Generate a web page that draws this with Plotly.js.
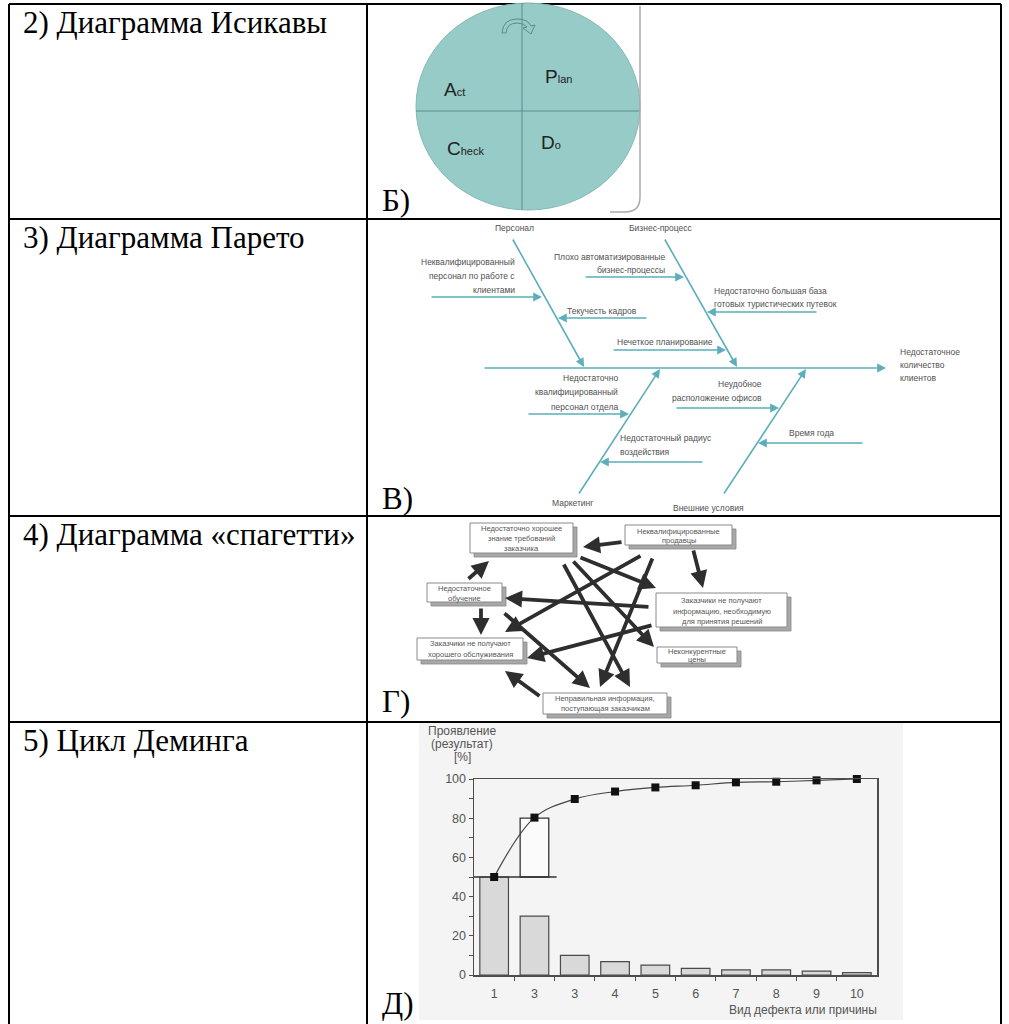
<!DOCTYPE html>
<html>
<head>
<meta charset="utf-8">
<script src="https://cdn.plot.ly/plotly-3.0.1.min.js"></script>
<style>html,body{margin:0;padding:0;background:#fff;}#chart{width:1009px;height:1024px;}</style>
</head>
<body>
<div id="chart"></div>
<script>
// ================= DATA =================
const rowTitles = ["2) Диаграмма Исикавы", "3) Диаграмма Парето", "4) Диаграмма «спагетти»", "5) Цикл Деминга"];
const rowLetters = ["Б)", "В)", "Г)", "Д)"];

// Pareto chart (panel Д)
const defectLabels = ["1", "3", "3", "4", "5", "6", "7", "8", "9", "10"];
const defectShare = [50, 30, 10, 6.8, 5, 3.4, 2.6, 2.6, 2, 1.2];
const cumulativeShare = [50, 80.3, 89.8, 93.6, 95.7, 96.8, 98.3, 98.6, 99.3, 100];
const yTitleLines = ["Проявление", "(результат)", "[%]"];
const xTitleText = "Вид дефекта или причины";

// PDCA circle (panel Б)
const pdcaBig = ["P", "D", "C", "A"];
const pdcaSmall = ["lan", "o", "heck", "ct"];

// Fishbone (panel В)
const fishTexts = ["Персонал", "Бизнес-процесс", "Маркетинг", "Внешние условия",
  "Неквалифицированный", "персонал по работе с", "клиентами",
  "Текучесть кадров",
  "Плохо автоматизированные", "бизнес-процессы",
  "Нечеткое планирование",
  "Недостаточно большая база", "готовых туристических путевок",
  "Недостаточно", "квалифицированный", "персонал отдела",
  "Недостаточный радиус", "воздействия",
  "Неудобное", "расположение офисов",
  "Время года",
  "Недостаточное", "количество", "клиентов"];

// Spaghetti (panel Г)
const spagTexts = [
  ["Недостаточно хорошее", "знание требований", "заказчика"],
  ["Неквалифицированные", "продавцы"],
  ["Недостаточное", "обучение"],
  ["Заказчики не получают", "информацию, необходимую", "для принятия решений"],
  ["Заказчики не получают", "хорошего обслуживания"],
  ["Неконкурентные", "цены"],
  ["Неправильная информация,", "поступающая заказчикам"]
];

// ================= LAYOUT GEOMETRY (page pixels) =================
const tableLeft = 9, tableRight = 1001, colSplit = 367;
const rowEdges = [4, 219, 516, 722];
const titleCenters = [22, 237, 534, 740];
const letterCenters = [200, 498, 701, 1003];

const pdcaPos = [[543, 76, 19], [539, 142, 19], [445, 148, 19], [442, 89, 19]];

// fishbone arrows: tail x, tail y, head x, head y
const fishArrows = [
  [483, 368, 886, 368],
  [512, 238, 584, 367], [664, 238, 737, 367],
  [578, 495, 660, 369], [723, 495, 806, 369],
  [430, 297, 542, 297], [648, 318, 558, 318], [584, 277, 684, 277],
  [612, 350, 726, 350], [818, 312, 707, 312], [527, 414, 629, 414],
  [704, 462, 600, 462], [675, 408, 779, 408], [864, 443, 758, 443]
];
// fishbone text positions: x, y, anchor
const fishTextPos = [
  [514, 228, 'center'], [661, 228, 'center'], [572, 503, 'center'], [708, 508, 'center'],
  [517, 262, 'right'], [517, 276, 'right'], [517, 290, 'right'],
  [565, 311, 'left'],
  [667, 257, 'right'], [667, 270, 'right'],
  [615, 342, 'left'],
  [712, 291, 'left'], [712, 304, 'left'],
  [620, 378, 'right'], [620, 392, 'right'], [620, 407, 'right'],
  [618, 438, 'left'], [618, 452, 'left'],
  [764, 384, 'right'], [764, 398, 'right'],
  [787, 433, 'left'],
  [898, 352, 'left'], [898, 365, 'left'], [898, 378, 'left']
];

// spaghetti boxes x0,y0,x1,y1 and line centres
const spagBoxes = [
  [470, 523, 573, 553], [625, 525, 732, 545], [427, 583, 502, 602],
  [656, 593, 787, 627], [417, 638, 523, 660], [657, 647, 737, 663], [543, 693, 667, 714]
];
const spagLineY = [[528, 538, 548], [531, 540], [588, 598], [600, 611, 621], [643, 654], [651, 659], [698, 708]];
const spagArrows = [
  [623, 542, 583, 547], [467, 580, 489, 561], [481, 607, 481, 635], [693, 549, 703, 588],
  [579, 557, 656, 588], [650, 607, 505, 598], [653, 625, 527, 658], [642, 555, 505, 632],
  [653, 557, 600, 687], [563, 563, 630, 687], [572, 560, 654, 647], [503, 612, 590, 688],
  [541, 697, 505, 671]
];

// Pareto placement
const parL = 474, parR = 877, parTop = 779, parBot = 975;

// ================= BUILD =================
const W = 1009, H = 1024;
const serif = "Liberation Serif, Times New Roman, serif";
const sans = "Liberation Sans, Arial, sans-serif";
const shapes = [];
const annotations = [];
const C = {xref: 'x', yref: 'y'};

// Pareto image background
shapes.push(Object.assign({type: 'rect', x0: 419, x1: 903, y0: 723, y1: 1020, fillcolor: '#f4f4f4', line: {width: 0}, layer: 'below'}, C));

// Table lines
rowEdges.forEach(y => shapes.push(Object.assign({type: 'line', x0: tableLeft, x1: tableRight, y0: y, y1: y, line: {color: '#000', width: 2}}, C)));
[tableLeft, colSplit, tableRight].forEach(x => shapes.push(Object.assign({type: 'line', x0: x, x1: x, y0: rowEdges[0], y1: H, line: {color: '#000', width: 2}}, C)));

rowTitles.forEach((t, i) => annotations.push(Object.assign({text: t, x: 21, y: titleCenters[i], xanchor: 'left', yanchor: 'middle', showarrow: false, font: {family: serif, size: 31, color: '#000'}}, C)));
rowLetters.forEach((t, i) => annotations.push(Object.assign({text: t, x: 380, y: letterCenters[i], xanchor: 'left', yanchor: 'middle', showarrow: false, font: {family: serif, size: 31, color: '#000'}}, C)));

// ---- PDCA ----
shapes.push(Object.assign({type: 'circle', x0: 416, x1: 640, y0: 3, y1: 210, fillcolor: '#96cbc8', line: {color: '#84b8b5', width: 1}}, C));
shapes.push(Object.assign({type: 'line', x0: 522, x1: 522, y0: 3, y1: 210, line: {color: '#5a8c89', width: 1}}, C));
shapes.push(Object.assign({type: 'line', x0: 416, x1: 640, y0: 111, y1: 111, line: {color: '#5a8c89', width: 1}}, C));
shapes.push(Object.assign({type: 'path', path: 'M 640 6 L 640 197 Q 640 212 625 212 L 610 212', line: {color: '#aaaaaa', width: 1.5}}, C));
shapes.push(Object.assign({type: 'path', path: 'M 502 33 Q 503 19 517 19 Q 528 19 531 26 L 535 25 L 531 34 L 523 28 L 527 27 Q 524 23 517 23 Q 507 23 506 33 Z', fillcolor: 'rgba(0,0,0,0)', line: {color: '#5a8c89', width: 1}}, C));
pdcaBig.forEach((b, i) => annotations.push(Object.assign({
  text: b + '<span style="font-size:11px">' + pdcaSmall[i] + '</span>',
  x: pdcaPos[i][0], y: pdcaPos[i][1], xanchor: 'left', yanchor: 'middle', showarrow: false,
  font: {family: sans, size: pdcaPos[i][2], color: '#222'}}, C)));

// ---- Fishbone ----
fishArrows.forEach(a => annotations.push(Object.assign({
  text: '', x: a[2], y: a[3], ax: a[0], ay: a[1], axref: 'x', ayref: 'y',
  showarrow: true, arrowhead: 2, arrowsize: 1.1, arrowwidth: 1.6, arrowcolor: '#5cafba', standoff: 0, startstandoff: 0}, C)));
fishTexts.forEach((t, i) => annotations.push(Object.assign({
  text: t, x: fishTextPos[i][0], y: fishTextPos[i][1], xanchor: fishTextPos[i][2], yanchor: 'middle', showarrow: false,
  font: {family: sans, size: 8.5, color: '#505050'}}, C)));

// ---- Spaghetti ----
spagBoxes.forEach(b => {
  shapes.push(Object.assign({type: 'rect', x0: b[0] + 4, x1: b[2] + 4, y0: b[1] + 4, y1: b[3] + 4, fillcolor: '#a8a8a8', line: {color: '#888', width: 0.8}}, C));
  shapes.push(Object.assign({type: 'rect', x0: b[0], x1: b[2], y0: b[1], y1: b[3], fillcolor: '#ffffff', line: {color: '#8a8a8a', width: 1}}, C));
});
spagTexts.forEach((lines, i) => lines.forEach((t, j) => annotations.push(Object.assign({
  text: t, x: (spagBoxes[i][0] + spagBoxes[i][2]) / 2, y: spagLineY[i][j], xanchor: 'center', yanchor: 'middle', showarrow: false,
  font: {family: sans, size: 7.5, color: '#555'}}, C))));
spagArrows.forEach(a => annotations.push(Object.assign({
  text: '', x: a[2], y: a[3], ax: a[0], ay: a[1], axref: 'x', ayref: 'y',
  showarrow: true, arrowhead: 2, arrowsize: 0.9, arrowwidth: 3.8, arrowcolor: '#2e2e2e', standoff: 0, startstandoff: 0}, C)));

// ---- Pareto titles ----
yTitleLines.forEach((t, i) => annotations.push(Object.assign({
  text: t, x: 462, y: 731 + i * 13, xanchor: 'center', yanchor: 'middle', showarrow: false,
  font: {family: sans, size: 12, color: '#555'}}, C)));
annotations.push(Object.assign({text: xTitleText, x: 879, y: 1010, xanchor: 'right', yanchor: 'middle', showarrow: false,
  font: {family: sans, size: 12, color: '#555'}}, C));

const idx = defectLabels.map((_, i) => i);
const traces = [
  {type: 'scatter', x: [], y: [], xaxis: 'x', yaxis: 'y', hoverinfo: 'skip', showlegend: false},
  {type: 'bar', x: idx, y: defectShare, width: 0.71, xaxis: 'x2', yaxis: 'y2',
    marker: {color: '#d9d9d9', line: {color: '#4a4a4a', width: 1.2}}},
  {type: 'bar', x: [idx[1]], y: [defectShare[1]], base: [cumulativeShare[0]], width: 0.71, xaxis: 'x2', yaxis: 'y2',
    marker: {color: '#fbfbfb', line: {color: '#333', width: 1.3}}},
  {type: 'scatter', mode: 'lines', x: [-0.5, idx[1] + 0.55], y: [cumulativeShare[0], cumulativeShare[0]], xaxis: 'x2', yaxis: 'y2',
    line: {color: '#333', width: 1.4}, cliponaxis: false},
  {type: 'scatter', mode: 'lines+markers', x: idx, y: cumulativeShare, xaxis: 'x2', yaxis: 'y2', cliponaxis: false,
    line: {color: '#444', width: 1.2, shape: 'spline', smoothing: 1},
    marker: {symbol: 'square', size: 8, color: '#111'}}
];

const axisFont = {family: sans, size: 12.5, color: '#555'};
const layout = {
  width: W, height: H, margin: {l: 0, r: 0, t: 0, b: 0},
  paper_bgcolor: '#ffffff', plot_bgcolor: 'rgba(0,0,0,0)', showlegend: false, barmode: 'overlay',
  xaxis: {domain: [0, 1], range: [0, W], visible: false, fixedrange: true},
  yaxis: {domain: [0, 1], range: [H, 0], visible: false, fixedrange: true},
  xaxis2: {domain: [parL / W, parR / W], anchor: 'y2', range: [-0.5, 9.5],
    showline: true, mirror: true, linecolor: '#4d4d4d', linewidth: 1.5,
    tickmode: 'array', tickvals: idx, ticktext: defectLabels, ticks: 'outside', ticklen: 6, tickcolor: 'rgba(0,0,0,0)',
    tickfont: axisFont, showgrid: false, zeroline: false, fixedrange: true,
    minor: {tickmode: 'array', tickvals: idx.slice(1).map(i => i - 0.5), ticks: 'outside', ticklen: 4, tickcolor: '#4d4d4d', tickwidth: 1, showgrid: false}},
  yaxis2: {domain: [1 - parBot / H, 1 - parTop / H], anchor: 'x2', range: [0, 100],
    tickmode: 'linear', tick0: 0, dtick: 20, ticks: 'outside', ticklen: 4, tickcolor: '#4d4d4d',
    showline: true, mirror: true, linecolor: '#4d4d4d', linewidth: 1.5, showgrid: false, zeroline: false,
    tickfont: axisFont, fixedrange: true,
    minor: {dtick: 10, ticks: 'outside', ticklen: 4, tickcolor: '#4d4d4d', showgrid: false}},
  shapes: shapes,
  annotations: annotations
};

Plotly.newPlot('chart', traces, layout, {staticPlot: true, displayModeBar: false});
</script>
</body>
</html>
